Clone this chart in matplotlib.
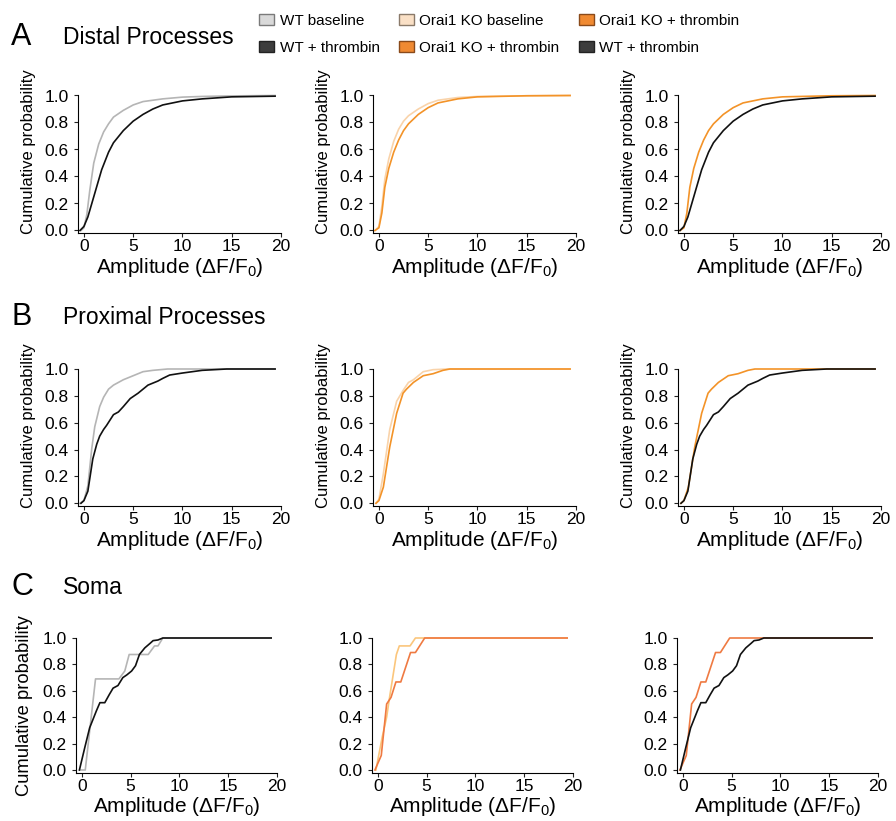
import matplotlib.pyplot as plt
from matplotlib.patches import Patch

plt.rcParams['font.family'] = ['Liberation Sans', 'DejaVu Sans']
plt.rcParams['mathtext.fontset'] = 'custom'
plt.rcParams['mathtext.rm'] = 'Liberation Sans'
plt.rcParams['mathtext.it'] = 'Liberation Sans:italic'

# ---- data (amplitude dF/F0, cumulative probability) ----
# Distal processes
distal_wt_base_x = [-0.3, 0, 0.3, 0.6, 1.0, 1.5, 2, 2.5, 3, 4, 5, 6, 8, 10, 12, 15, 19.4]
distal_wt_base_y = [0, 0.02, 0.12, 0.3, 0.5, 0.64, 0.73, 0.79, 0.84, 0.89, 0.93, 0.955, 0.975, 0.988, 0.993, 0.997, 1.0]
distal_wt_thr_x = [-0.4, 0, 0.4, 0.8, 1.2, 1.8, 2.5, 3, 4, 5, 6, 7, 8, 10, 12, 15, 19.4]
distal_wt_thr_y = [0, 0.03, 0.1, 0.2, 0.3, 0.45, 0.58, 0.65, 0.74, 0.81, 0.86, 0.9, 0.93, 0.96, 0.975, 0.99, 0.995]
distal_ko_base_x = [-0.4, 0, 0.3, 0.6, 1, 1.5, 2, 2.5, 3, 4, 5, 6, 8, 10, 15, 19.4]
distal_ko_base_y = [0, 0.03, 0.18, 0.38, 0.53, 0.66, 0.75, 0.81, 0.85, 0.9, 0.94, 0.965, 0.985, 0.993, 0.998, 1.0]
distal_ko_thr_x = [-0.4, 0, 0.3, 0.6, 1, 1.5, 2, 2.5, 3, 4, 5, 6, 8, 10, 15, 19.4]
distal_ko_thr_y = [0, 0.02, 0.13, 0.32, 0.46, 0.58, 0.67, 0.74, 0.79, 0.86, 0.91, 0.945, 0.975, 0.99, 0.998, 1.0]

# Proximal processes
prox_wt_base_x = [-0.4, 0, 0.4, 0.8, 1.1, 1.6, 2.0, 2.5, 3.0, 3.5, 4.0, 5.0, 6.0, 7.0, 8.5, 19.4]
prox_wt_base_y = [0, 0.02, 0.13, 0.41, 0.57, 0.72, 0.79, 0.85, 0.88, 0.9, 0.92, 0.95, 0.98, 0.99, 1.0, 1.0]
prox_wt_thr_x = [-0.3, 0, 0.4, 0.9, 1.3, 1.6, 2.0, 2.3, 3.0, 3.5, 4.0, 4.7, 5.5, 6.5, 7.5, 8.0, 8.7, 10, 12, 14.5, 19.4]
prox_wt_thr_y = [0, 0.02, 0.09, 0.33, 0.44, 0.5, 0.55, 0.58, 0.66, 0.68, 0.72, 0.78, 0.82, 0.88, 0.91, 0.93, 0.955, 0.97, 0.99, 1.0, 1.0]
prox_ko_base_x = [-0.3, 0, 0.45, 1.1, 1.8, 2.45, 3.0, 3.5, 4.5, 5.5, 7.0, 19.4]
prox_ko_base_y = [0, 0.03, 0.22, 0.55, 0.76, 0.84, 0.9, 0.92, 0.98, 0.995, 1.0, 1.0]
prox_ko_thr_x = [-0.3, 0, 0.45, 1.1, 1.8, 2.45, 2.8, 3.5, 4.5, 5.5, 6.5, 7.2, 19.4]
prox_ko_thr_y = [0, 0.02, 0.12, 0.42, 0.67, 0.82, 0.85, 0.9, 0.95, 0.965, 0.99, 1.0, 1.0]

# Soma
soma_wt_base_x = [-0.1, 0.35, 1.4, 3.8, 4.4, 4.85, 6.8, 7.45, 7.8, 8.3, 19.4]
soma_wt_base_y = [0, 0, 0.69, 0.69, 0.75, 0.875, 0.875, 0.94, 0.94, 1.0, 1.0]
soma_wt_thr_x = [-0.25, 0.3, 0.8, 1.5, 1.85, 2.35, 2.8, 3.2, 3.7, 4.2, 4.6, 5.1, 5.5, 5.9, 6.45, 7.0, 7.3, 7.8, 8.3, 19.4]
soma_wt_thr_y = [0, 0.17, 0.32, 0.45, 0.51, 0.51, 0.57, 0.62, 0.64, 0.7, 0.72, 0.75, 0.79, 0.875, 0.925, 0.96, 0.98, 0.985, 1.0, 1.0]
soma_ko_base_x = [-0.2, 0.45, 0.9, 1.2, 1.9, 2.2, 3.3, 3.85, 19.4]
soma_ko_base_y = [0, 0.25, 0.4, 0.55, 0.875, 0.94, 0.94, 1.0, 1.0]
soma_ko_thr_x = [-0.3, 0.35, 0.9, 1.35, 1.85, 2.35, 3.35, 3.85, 4.8, 19.4]
soma_ko_thr_y = [0, 0.11, 0.5, 0.55, 0.667, 0.667, 0.89, 0.89, 1.0, 1.0]

legend_labels = ['WT baseline', 'WT + thrombin', 'Orai1 KO baseline',
                 'Orai1 KO + thrombin', 'Orai1 KO + thrombin', 'WT + thrombin']
section_letters = ['A', 'B', 'C']
section_titles = ['Distal Processes', 'Proximal Processes', 'Soma']

# colours
c_wt_base = '#b5b5b5'
c_wt_thr = '#111111'
c_ko_base = '#f9d3aa'
c_ko_thr = '#f39328'
c_ko_base_soma = '#fbc67c'
c_ko_thr_soma = '#ef7a42'

W, H = 896, 821
fig = plt.figure(figsize=(W / 100, H / 100), dpi=100)


def px_axes(left, top_one, zero, width):
    # top_one: pixel row of y=1.0, zero: pixel row of y=0
    ppu = zero - top_one
    bottom = zero + 0.02 * ppu
    height = 1.02 * ppu
    return fig.add_axes([left / W, 1 - bottom / H, width / W, height / H])


def style(ax, ylabel=None):
    ax.set_xlim(-0.6, 20)
    ax.set_ylim(-0.02, 1.0)
    ax.set_xticks([0, 5, 10, 15, 20])
    ax.set_yticks([0, 0.2, 0.4, 0.6, 0.8, 1.0])
    ax.set_yticklabels(['0.0', '0.2', '0.4', '0.6', '0.8', '1.0'])
    for s in ['top', 'right']:
        ax.spines[s].set_visible(False)
    for s in ['left', 'bottom']:
        ax.spines[s].set_linewidth(0.8)
    ax.tick_params(labelsize=12.5, length=3, width=0.8, color='#222222')
    ax.tick_params(axis='x', pad=1.5)
    ax.set_xlabel('Amplitude (ΔF/F$_\\mathrm{0}$)', fontsize=15, labelpad=1)
    if ylabel is not None:
        size, ypos, pad = ylabel
        ax.set_ylabel('Cumulative probability', fontsize=size, labelpad=pad)
        ax.yaxis.label.set_y(ypos)


lab_ab = (12, 0.59, 6)
lab_c = (13.2, 0.5, 7)

rows = [
    dict(one=95.5, zero=230.5, lefts=[78, 373, 678], width=203,
         panels=[[(distal_wt_base_x, distal_wt_base_y, c_wt_base), (distal_wt_thr_x, distal_wt_thr_y, c_wt_thr)],
                 [(distal_ko_base_x, distal_ko_base_y, c_ko_base), (distal_ko_thr_x, distal_ko_thr_y, c_ko_thr)],
                 [(distal_ko_thr_x, distal_ko_thr_y, c_ko_thr), (distal_wt_thr_x, distal_wt_thr_y, c_wt_thr)]],
         ylab=[lab_ab, lab_ab, lab_ab]),
    dict(one=369, zero=503.3, lefts=[78, 373, 678], width=203,
         panels=[[(prox_wt_base_x, prox_wt_base_y, c_wt_base), (prox_wt_thr_x, prox_wt_thr_y, c_wt_thr)],
                 [(prox_ko_base_x, prox_ko_base_y, c_ko_base), (prox_ko_thr_x, prox_ko_thr_y, c_ko_thr)],
                 [(prox_ko_thr_x, prox_ko_thr_y, c_ko_thr), (prox_wt_thr_x, prox_wt_thr_y, c_wt_thr)]],
         ylab=[lab_ab, lab_ab, lab_ab]),
    dict(one=638, zero=770, lefts=[76, 372, 677], width=201,
         panels=[[(soma_wt_base_x, soma_wt_base_y, c_wt_base), (soma_wt_thr_x, soma_wt_thr_y, c_wt_thr)],
                 [(soma_ko_base_x, soma_ko_base_y, c_ko_base_soma), (soma_ko_thr_x, soma_ko_thr_y, c_ko_thr_soma)],
                 [(soma_ko_thr_x, soma_ko_thr_y, c_ko_thr_soma), (soma_wt_thr_x, soma_wt_thr_y, c_wt_thr)]],
         ylab=[lab_c, None, None]),
]

for row in rows:
    for left, series, yl in zip(row['lefts'], row['panels'], row['ylab']):
        ax = px_axes(left, row['one'], row['zero'], row['width'])
        for xs, ys, col in series:
            ax.plot(xs, ys, color=col, lw=1.2, clip_on=False)
        style(ax, yl)

# section headings
for letter, title, ypx in zip(section_letters, section_titles, [37, 317, 587]):
    fig.text(11 / W, 1 - ypx / H, letter, fontsize=22, va='center', ha='left')
    fig.text(63 / W, 1 - ypx / H, title, fontsize=16.5, va='center', ha='left')

# legend
handles = [
    Patch(facecolor='#d9d9d9', edgecolor='#7a7a7a'),
    Patch(facecolor='#3d3d3d', edgecolor='#222222'),
    Patch(facecolor='#fae0c6', edgecolor='#8a7a6a'),
    Patch(facecolor='#f08a32', edgecolor='#8a4a1a'),
    Patch(facecolor='#f08a32', edgecolor='#8a4a1a'),
    Patch(facecolor='#3d3d3d', edgecolor='#222222'),
]
fig.legend(handles, legend_labels, ncol=3, loc='upper left',
           bbox_to_anchor=(259 / W, 1 - 14 / H), frameon=False, fontsize=11,
           handlelength=1.0, handleheight=0.75, handletextpad=0.35,
           columnspacing=1.25, labelspacing=0.85, borderpad=0, borderaxespad=0)

fig.savefig('out.png', dpi=100)
